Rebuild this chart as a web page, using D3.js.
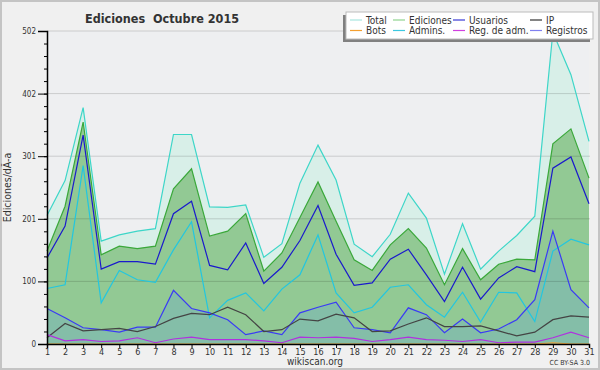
<!DOCTYPE html>
<html>
<head>
<meta charset="utf-8">
<script src="https://cdn.jsdelivr.net/npm/d3@7"></script>
<style>
  body { margin: 0; background: #f0f0f0; }
  svg text { font-family: "DejaVu Sans Condensed", "DejaVu Sans", sans-serif; font-stretch: condensed; fill: #333; }
</style>
</head>
<body>
<div id="chart"></div>
<script>
const days = d3.range(1, 32);
const total     = [206,262,379,165,175,181,185,336,336,220,219,223,139,161,258,319,263,160,140,176,242,202,112,193,120,149,174,205,500,432,325];
const ediciones = [149,221,356,143,157,153,157,249,281,173,181,209,117,146,203,260,197,135,118,159,185,154,95,153,103,128,136,135,321,345,266];
const usuarios  = [138,189,335,120,132,132,128,209,229,126,119,162,97,123,166,222,144,94,98,136,152,111,68,123,72,106,124,116,282,300,225];
const admins    = [89,95,286,66,118,103,99,151,196,42,70,82,53,88,111,175,82,50,59,91,95,63,43,83,35,83,82,36,149,168,159];
const registros = [57,42,26,23,19,27,27,86,57,50,39,15,21,15,50,59,67,26,23,18,58,47,18,40,18,24,39,71,181,87,58];
const ip        = [10,33,21,23,25,20,28,41,49,47,59,47,20,23,40,37,48,42,20,21,32,42,28,28,29,21,13,19,39,45,43];
const regAdm    = [15,5,7,4,5,10,2,8,11,7,7,7,5,2,11,10,11,9,4,7,11,7,6,4,7,2,3,3,10,19,10];
const bots      = [0,0,0,0,0,0,0,0,0,0,0,0,0,0,0,0,0,0,0,0,0,0,0,0,0,0,0,0,2,0,0];

const yMax = 502;
const yTicks = [0, 100.4, 200.8, 301.2, 401.6, 502];

const legendNames  = ["Total", "Ediciones", "Usuarios", "IP", "Bots", "Admins.", "Reg. de adm.", "Registros"];
const legendColors = ["#a8e6df", "#8fd48f", "#3a3ad6", "#333333", "#f5a030", "#3cc8e0", "#d040e0", "#8080f0"];

const W = 600, H = 370;
const margin = { left: 47, right: 589, top: 31, bottom: 344 };

const svg = d3.select("#chart").append("svg")
  .attr("width", W)
  .attr("height", H);

svg.append("rect")
  .attr("x", 1).attr("y", 1)
  .attr("width", W - 2).attr("height", H - 2)
  .attr("fill", "#f0f0f0")
  .attr("stroke", "#c4c4c4")
  .attr("stroke-width", 2);

let x = d3.scaleLinear().domain([1, 31]).range([margin.left, margin.right]);
let y = d3.scaleLinear().domain([0, yMax]).range([margin.bottom, margin.top]);

svg.append("rect")
  .attr("x", margin.left).attr("y", margin.top)
  .attr("width", margin.right - margin.left).attr("height", margin.bottom - margin.top)
  .attr("fill", "#eeeff1");

let rows = days.map((d, i) => ({
  day: d, total: total[i], ediciones: ediciones[i], usuarios: usuarios[i], admins: admins[i],
  registros: registros[i], ip: ip[i], regAdm: regAdm[i], bots: bots[i]
}));

function area(key) {
  return d3.area().x(d => x(d.day)).y0(y(0)).y1(d => y(d[key]));
}
function line(key) {
  return d3.line().x(d => x(d.day)).y(d => y(d[key]));
}

// filled areas
svg.append("path").datum(rows).attr("d", area("total")).attr("fill", "#d8efe8");
svg.append("path").datum(rows).attr("d", area("ediciones")).attr("fill", "#92c994");
svg.append("path").datum(rows).attr("d", area("registros")).attr("fill", "#84bea8");

// grid
svg.append("g")
  .selectAll("line")
  .data(yTicks.slice(1))
  .enter().append("line")
  .attr("x1", margin.left).attr("x2", margin.right + 1)
  .attr("y1", d => y(d)).attr("y2", d => y(d))
  .attr("stroke", "rgba(0,0,0,0.15)")
  .attr("stroke-width", 1);

// lines
const lineStyles = [
  ["total", "#3dd6c8"],
  ["ediciones", "#3aa83a"],
  ["admins", "#22c6e0"],
  ["usuarios", "#1a1acc"],
  ["registros", "#3a3af5"],
  ["ip", "#444444"],
  ["regAdm", "#b030e0"],
  ["bots", "#f5a030"]
];
lineStyles.forEach(([k, c]) => {
  svg.append("path").datum(rows)
    .attr("d", line(k))
    .attr("fill", "none")
    .attr("stroke", c)
    .attr("stroke-width", 1.2);
});

// axes
let yAxis = d3.axisLeft(y).tickValues(yTicks).tickSize(9).tickPadding(2)
  .tickFormat(d => Math.round(d));
let yMinor = d3.axisLeft(y).tickValues(d3.range(0, yMax, yMax / 25)).tickSize(3).tickFormat("");
let xAxis = d3.axisBottom(x).tickValues(days).tickSize(4).tickPadding(1);

svg.append("g").attr("transform", "translate(" + margin.left + ",0)").call(yMinor)
  .call(g => g.select(".domain").remove());
let ya = svg.append("g").attr("class", "yAxis")
  .attr("transform", "translate(" + margin.left + ",0)")
  .call(yAxis);
ya.selectAll("text").style("font-size", "8px");

let xa = svg.append("g").attr("class", "timeAxis")
  .attr("transform", "translate(0," + margin.bottom + ")")
  .call(xAxis);
xa.selectAll("text").style("font-size", "9px");

svg.selectAll(".domain").attr("stroke", "#000").attr("stroke-width", 1.5);

// titles
svg.append("text")
  .attr("x", 85).attr("y", 23)
  .style("font-size", "12.5px").style("font-weight", "bold")
  .style("white-space", "pre")
  .attr("fill", "#222")
  .text("Ediciones  Octubre 2015");

svg.append("text")
  .attr("transform", "translate(11," + (margin.top + margin.bottom) / 2 + ") rotate(-90)")
  .attr("text-anchor", "middle")
  .style("font-size", "10.5px")
  .text("Ediciones/dÃ-a");

svg.append("text")
  .attr("x", 315).attr("y", 365)
  .attr("text-anchor", "middle")
  .style("font-size", "10px")
  .text("wikiscan.org");

svg.append("text")
  .attr("x", 590).attr("y", 365)
  .attr("text-anchor", "end")
  .style("font-size", "7px")
  .text("CC BY-SA 3.0");

// legend
let lg = svg.append("g");
lg.append("rect").attr("x", 343).attr("y", 15).attr("width", 247).attr("height", 27).attr("fill", "#808080");
lg.append("rect").attr("x", 346).attr("y", 12).attr("width", 247).attr("height", 27)
  .attr("fill", "#fff").attr("stroke", "#bbb");
const colX = [350, 393, 453, 530];
legendNames.forEach((n, i) => {
  let cx = colX[i % 4], cy = i < 4 ? 20 : 30.5;
  lg.append("line").attr("x1", cx).attr("x2", cx + 12).attr("y1", cy).attr("y2", cy)
    .attr("stroke", legendColors[i]).attr("stroke-width", 1.2);
  lg.append("text").attr("x", cx + 16).attr("y", cy + 3.5)
    .style("font-size", "10px")
    .text(n);
});
</script>
</body>
</html>
